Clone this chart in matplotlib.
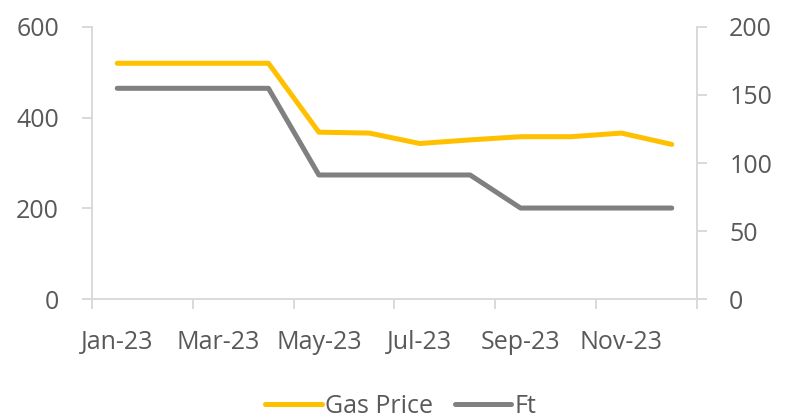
import matplotlib
matplotlib.use('Agg')
import matplotlib.pyplot as plt
import numpy as np

months = ['Jan-23', 'Feb-23', 'Mar-23', 'Apr-23', 'May-23', 'Jun-23',
          'Jul-23', 'Aug-23', 'Sep-23', 'Oct-23', 'Nov-23', 'Dec-23']
gas_price = [520, 520, 520, 520, 368, 366, 343, 351, 358, 358, 366, 341]
ft = [154.92, 154.92, 154.92, 154.92, 91.19, 91.19, 91.19, 91.19, 66.89, 66.89, 66.89, 66.89]

plt.rcParams['font.family'] = ['Open Sans', 'DejaVu Sans']
text_color = '#595959'
spine_color = '#d9d9d9'
fs = 18

fig = plt.figure(figsize=(7.91, 4.19), dpi=100)
ax = fig.add_axes([92/791, 1 - 299/419, (697 - 92)/791, (299 - 27)/419])
ax2 = ax.twinx()

x = np.arange(len(months))
l1, = ax.plot(x, gas_price, color='#FFC000', lw=3.6, solid_capstyle='round',
              solid_joinstyle='round', label='Gas Price', zorder=3)
l2, = ax2.plot(x, ft, color='#808080', lw=3.6, solid_capstyle='round',
               solid_joinstyle='round', label='Ft', zorder=3)

ax.set_xlim(-0.5, len(months) - 0.5)
ax.set_ylim(0, 600)
ax2.set_ylim(0, 200)
ax.set_yticks([0, 200, 400, 600])
ax2.set_yticks([0, 50, 100, 150, 200])

# major ticks at category boundaries, labels at every other category
ax.set_xticks(np.arange(-0.5, len(months), 2))
ax.set_xticklabels([])
ax.set_xticks(x[::2], minor=True)
ax.set_xticklabels(months[::2], minor=True)
ax.tick_params(axis='x', which='minor', length=0, pad=22, labelsize=fs, labelcolor=text_color)
ax.tick_params(axis='x', which='major', length=7.2, width=1.4, color=spine_color)
ax.tick_params(axis='y', length=7.2, width=1.4, color=spine_color, pad=16.5,
               labelsize=fs, labelcolor=text_color)
ax2.tick_params(axis='y', length=7.2, width=1.4, color=spine_color, pad=16,
                labelsize=fs, labelcolor=text_color)

for a in (ax, ax2):
    a.spines['top'].set_visible(False)
    for side in ('left', 'right', 'bottom'):
        a.spines[side].set_color(spine_color)
        a.spines[side].set_linewidth(1.4)
ax.spines['right'].set_visible(False)
ax2.spines['left'].set_visible(False)
ax2.spines['bottom'].set_visible(False)

fig.legend(handles=[l1, l2], loc='center', bbox_to_anchor=(401/791, 1 - 406/419),
           ncol=2, frameon=False, fontsize=fs, labelcolor=text_color,
           handlelength=2.25, handletextpad=0.15, columnspacing=0.85,
           borderpad=0.1)

fig.savefig('out.png', dpi=100)
